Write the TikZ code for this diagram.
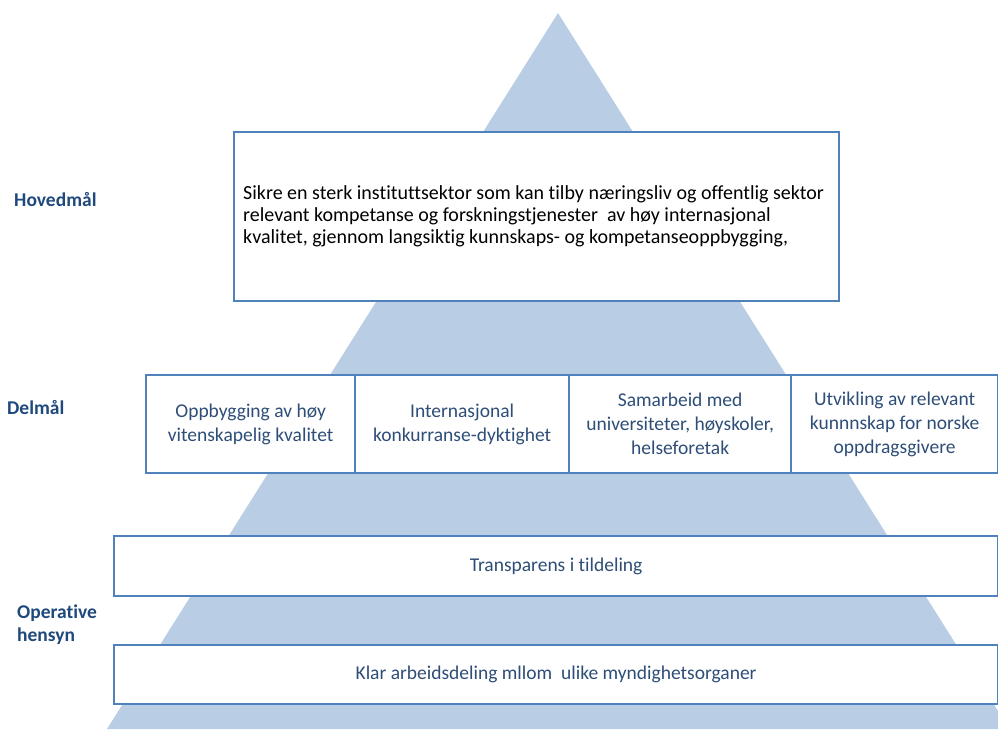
\documentclass[tikz,border=0pt]{standalone}
\usepackage{fontspec}
\setmainfont{Carlito}[Ligatures=NoCommon]
\definecolor{pyr}{HTML}{B9CDE5}
\definecolor{frame}{HTML}{4F81BD}
\definecolor{ink}{HTML}{1F497D}
\definecolor{celltext}{HTML}{2E4E78}
\begin{document}
\begin{tikzpicture}[x=1pt,y=-1pt,
  box/.style={draw=frame, line width=2.2pt, fill=white, inner sep=0pt, anchor=north west},
  lbl/.style={font=\fontsize{19.5}{23}\selectfont\bfseries, text=ink, align=left, anchor=west, inner sep=0pt},
  cell/.style={box, font=\fontsize{19.5}{24}\selectfont, text=celltext, align=center, minimum height=98pt},
  band/.style={box, font=\fontsize{19.5}{22}\selectfont, text=celltext, minimum width=884pt}]
\useasboundingbox (0,0) rectangle (998,729);

% pyramid behind the boxes
\fill[pyr] (558,13) -- (998,711) -- (998,729) -- (107,729) -- cycle;

% main goal
\node[box, minimum width=605pt, minimum height=169pt] (main) at (233,131) {};
\node[anchor=west, inner sep=0pt, align=left, font=\fontsize{20}{22}\selectfont, text=black]
  (maintext) at (243,216.5)
  {Sikre en sterk instituttsektor som kan tilby næringsliv og offentlig sektor\\
   relevant kompetanse og forskningstjenester\ \ av høy internasjonal\\
   kvalitet, gjennom langsiktig kunnskaps- og kompetanseoppbygging,};

% sub-goals
\node[cell, minimum width=209pt] (d1) at (145,374) {Oppbygging av høy\\vitenskapelig kvalitet};
\node[cell, minimum width=214pt] (d2) at (354,374) {Internasjonal\\konkurranse-dyktighet};
\node[cell, minimum width=222pt] (d3) at (568,374) {Samarbeid med\\universiteter, høyskoler,\\helseforetak};
\node[cell, minimum width=207pt] (d4) at (790,374) {Utvikling av relevant\\kunnnskap for norske\\oppdragsgivere};

% operative considerations
\node[band, minimum height=60pt] (o1) at (113,535) {Transparens i tildeling};
\node[band, minimum height=59pt] (o2) at (113,644) {Klar arbeidsdeling mllom\ \ ulike myndighetsorganer};

% level labels
\node[lbl] (hm) at (14,199) {Hovedmål};
\node[lbl] (dm) at (7,407) {Delmål};
\node[lbl] (op) at (17,625) {Operative\\hensyn};
\end{tikzpicture}
\end{document}
